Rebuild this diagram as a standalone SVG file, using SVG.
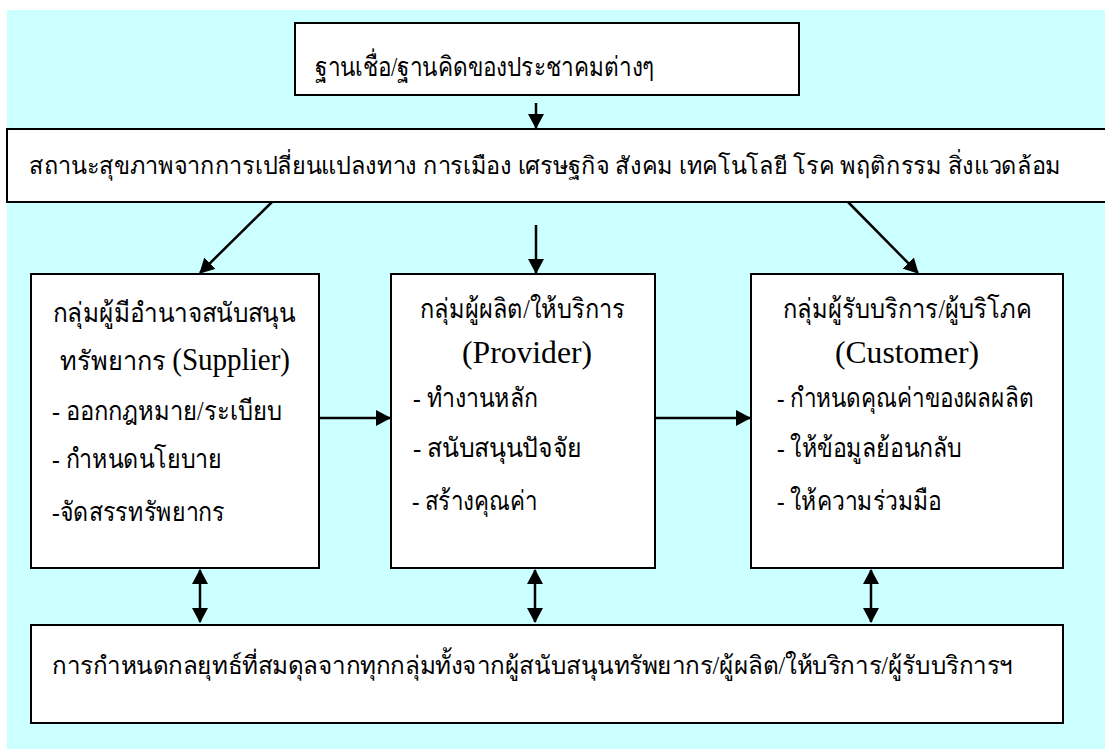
<svg xmlns="http://www.w3.org/2000/svg" width="1105" height="749" viewBox="0 0 1105 749">
<style>
.box{fill:#fff;stroke:#000;stroke-width:2}
.t{font-family:"Liberation Serif","DejaVu Serif",serif;font-size:27px;fill:#000}
.s{font-size:25px}
.s2{font-size:24px}
.e{font-family:"Liberation Serif",serif;font-size:31px}
.c{stroke:#000;stroke-width:2.5;fill:none;marker-end:url(#ah)}
.d{stroke:#000;stroke-width:2.5;fill:none;marker-end:url(#ah);marker-start:url(#ah)}
</style>
<defs>
<marker id="ah" markerUnits="userSpaceOnUse" markerWidth="15" markerHeight="16" refX="14" refY="8" orient="auto-start-reverse">
<path d="M0,0 L15,8 L0,16 z" fill="#000"/>
</marker>
</defs>
<rect x="7" y="10" width="1098" height="739" fill="#CCFFFF"/>
<g id="n-top">
<rect class="box" x="295" y="23" width="504" height="72"/>
<text class="t" x="315" y="76" textLength="340" lengthAdjust="spacingAndGlyphs">ฐานเชื่อ/ฐานคิดของประชาคมต่างๆ</text>
</g>
<g id="n-status">
<rect class="box" x="7" y="129" width="1099" height="73"/>
<text class="t s2" x="29" y="174" textLength="1032" lengthAdjust="spacingAndGlyphs">สถานะสุขภาพจากการเปลี่ยนแปลงทาง การเมือง เศรษฐกิจ สังคม เทคโนโลยี โรค พฤติกรรม สิ่งแวดล้อม</text>
</g>
<g id="n-supplier">
<rect class="box" x="31" y="274" width="288" height="294"/>
<text class="t" x="53" y="322" textLength="242" lengthAdjust="spacingAndGlyphs">กลุ่มผู้มีอำนาจสนับสนุน</text>
<text class="t" x="60" y="370" textLength="230" lengthAdjust="spacingAndGlyphs">ทรัพยากร <tspan class="e">(Supplier)</tspan></text>
<text class="t" x="52" y="420" textLength="230" lengthAdjust="spacingAndGlyphs">- ออกกฎหมาย/ระเบียบ</text>
<text class="t" x="52" y="468" textLength="170" lengthAdjust="spacingAndGlyphs">- กำหนดนโยบาย</text>
<text class="t" x="52" y="521" textLength="173" lengthAdjust="spacingAndGlyphs">-จัดสรรทรัพยากร</text>
</g>
<g id="n-provider">
<rect class="box" x="391" y="274" width="264" height="294"/>
<text class="t" x="420" y="318" textLength="205" lengthAdjust="spacingAndGlyphs">กลุ่มผู้ผลิต/ให้บริการ</text>
<text class="t e" x="462" y="363" textLength="130" lengthAdjust="spacingAndGlyphs">(Provider)</text>
<text class="t" x="413" y="407" textLength="125" lengthAdjust="spacingAndGlyphs">- ทำงานหลัก</text>
<text class="t" x="413" y="457" textLength="169" lengthAdjust="spacingAndGlyphs">- สนับสนุนปัจจัย</text>
<text class="t" x="412" y="510" textLength="125" lengthAdjust="spacingAndGlyphs">- สร้างคุณค่า</text>
</g>
<g id="n-customer">
<rect class="box" x="751" y="274" width="312" height="294"/>
<text class="t" x="783" y="318" textLength="249" lengthAdjust="spacingAndGlyphs">กลุ่มผู้รับบริการ/ผู้บริโภค</text>
<text class="t e" x="835" y="363" textLength="144" lengthAdjust="spacingAndGlyphs">(Customer)</text>
<text class="t" x="777" y="407" textLength="257" lengthAdjust="spacingAndGlyphs">- กำหนดคุณค่าของผลผลิต</text>
<text class="t" x="777" y="457" textLength="185" lengthAdjust="spacingAndGlyphs">- ให้ข้อมูลย้อนกลับ</text>
<text class="t" x="777" y="510" textLength="165" lengthAdjust="spacingAndGlyphs">- ให้ความร่วมมือ</text>
</g>
<g id="n-strategy">
<rect class="box" x="31" y="625" width="1032" height="98"/>
<text class="t s" x="52" y="674" textLength="961" lengthAdjust="spacingAndGlyphs">การกำหนดกลยุทธ์ที่สมดุลจากทุกกลุ่มทั้งจากผู้สนับสนุนทรัพยากร/ผู้ผลิต/ให้บริการ/ผู้รับบริการฯ</text>
</g>
<g id="connectors">
<line class="c" x1="536" y1="103" x2="536" y2="128"/>
<line class="c" x1="272" y1="202" x2="200" y2="273"/>
<line class="c" x1="536" y1="225" x2="536" y2="273"/>
<line class="c" x1="848" y1="202" x2="918" y2="273"/>
<line class="c" x1="319" y1="418" x2="390" y2="418"/>
<line class="c" x1="655" y1="418" x2="750" y2="418"/>
<line class="d" x1="200" y1="570" x2="200" y2="622"/>
<line class="d" x1="535" y1="570" x2="535" y2="622"/>
<line class="d" x1="871" y1="570" x2="871" y2="622"/>
</g>
</svg>
